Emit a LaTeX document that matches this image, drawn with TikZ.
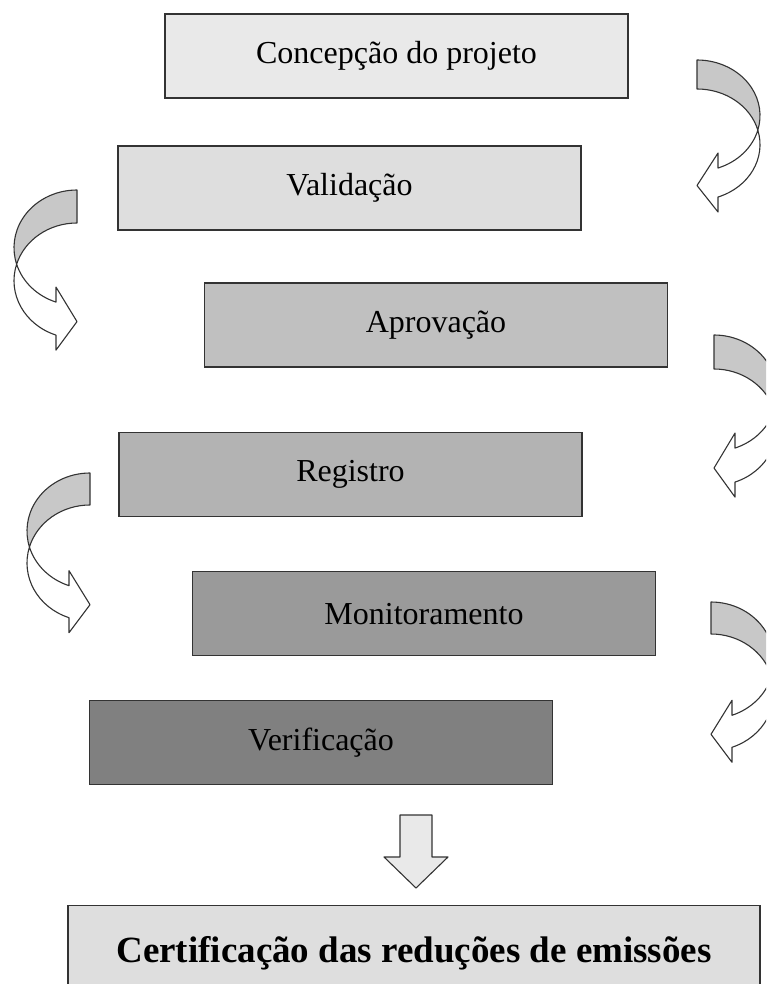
\documentclass[tikz,border=0pt]{standalone}
\usepackage{fontspec}
\setmainfont{Liberation Serif}
\usepackage{tikz}
\usetikzlibrary{positioning}

\definecolor{boxA}{HTML}{E9E9E9}
\definecolor{boxB}{HTML}{DEDEDE}
\definecolor{boxC}{HTML}{C0C0C0}
\definecolor{boxD}{HTML}{B3B3B3}
\definecolor{boxE}{HTML}{9A9A9A}
\definecolor{boxF}{HTML}{808080}
\definecolor{backgray}{HTML}{C8C8C8}
\definecolor{edgegray}{HTML}{333333}

\tikzset{
  stage/.style={draw=edgegray, line width=1.4pt, minimum width=463pt, minimum height=84pt,
    inner sep=0pt, text centered, font=\fontsize{32}{38}\selectfont},
  turnback/.style={fill=backgray, draw=edgegray, line width=1.1pt, line join=round},
  turnfront/.style={fill=white, draw=edgegray, line width=1.1pt, line join=round},
}

% curved block arrow: tail x, tail top, side (1 right, -1 left), y radius, thickness
\newcommand{\bentarrow}[5]{%
  \pgfmathsetmacro{\baCyO}{-#2-#4}%
  \pgfmathsetmacro{\baCyI}{\baCyO-#5}%
  \pgfmathsetmacro{\baAl}{asin(#5/(2*#4))}%
  \pgfmathsetmacro{\baAA}{90-#3*(90+\baAl)}%
  \pgfmathsetmacro{\baAB}{90-#3*(90-\baAl)}%
  \pgfmathsetmacro{\baAE}{90-#3*160.53}%
  \pgfmathsetmacro{\baXc}{#1+63*cos(\baAA)}%
  \pgfmathsetmacro{\baYc}{\baCyO+#4*sin(\baAA)}%
  \pgfmathsetmacro{\baXe}{#1+21*#3}%
  \pgfmathsetmacro{\baYo}{\baCyO+#4*sin(\baAE)}%
  \pgfmathsetmacro{\baYi}{\baCyI+#4*sin(\baAE)}%
  \draw[turnback] (#1,\baCyO+#4) arc[start angle=90, end angle=\baAA, x radius=63pt, y radius=#4pt]
    arc[start angle=\baAB, end angle=90, x radius=63pt, y radius=#4pt] -- cycle;
  \draw[turnfront] (\baXc,\baYc) arc[start angle=\baAA, end angle=\baAE, x radius=63pt, y radius=#4pt]
    -- (\baXe,\baYo+15) -- (#1,{(\baYo+\baYi)/2-3}) -- (\baXe,\baYi-15) -- (\baXe,\baYi)
    arc[start angle=\baAE, end angle=\baAB, x radius=63pt, y radius=#4pt] -- cycle;
}

\begin{document}
\begin{tikzpicture}[x=1pt, y=1pt]
    \clip (0,0) rectangle (766,-984);
    \fill[white] (0,0) rectangle (766,-984);
    % nodes %
    \node[stage, fill=boxA] (conc) at (396.5,-56) {Concepção do projeto};
    \node[stage, fill=boxB, below=46.5pt of conc, xshift=-47pt] (val) {Validação};
    \node[stage, fill=boxC, below=51.5pt of val, xshift=86.5pt] (aprov) {Aprovação};
    \node[stage, fill=boxD, below=64.5pt of aprov, xshift=-85.5pt] (reg) {Registro};
    \node[stage, fill=boxE, below=53.5pt of reg, xshift=73.5pt] (mon) {Monitoramento};
    \node[stage, fill=boxF, below=43.5pt of mon, xshift=-103pt] (ver) {Verificação};
    \node[stage, fill=boxB, minimum width=692pt, minimum height=95pt,
      font=\fontsize{37}{44}\selectfont\bfseries, below=119.5pt of ver, xshift=93pt] (cert)
      {Certificação das reduções de emissões};
    % curved arrows %
    \bentarrow{697}{60}{1}{55.6}{29}
    \bentarrow{77}{190}{-1}{57.7}{33}
    \bentarrow{714}{335}{1}{58.2}{34}
    \bentarrow{90}{473}{-1}{58}{32}
    \bentarrow{711}{602}{1}{58.3}{32}
    % down arrow %
    \draw[fill=boxA, draw=edgegray, line width=1.1pt, line join=round]
      (400,-815) -- (432,-815) -- (432,-857) -- (448,-857) -- (416,-888)
      -- (384,-857) -- (400,-857) -- cycle;
\end{tikzpicture}
\end{document}
